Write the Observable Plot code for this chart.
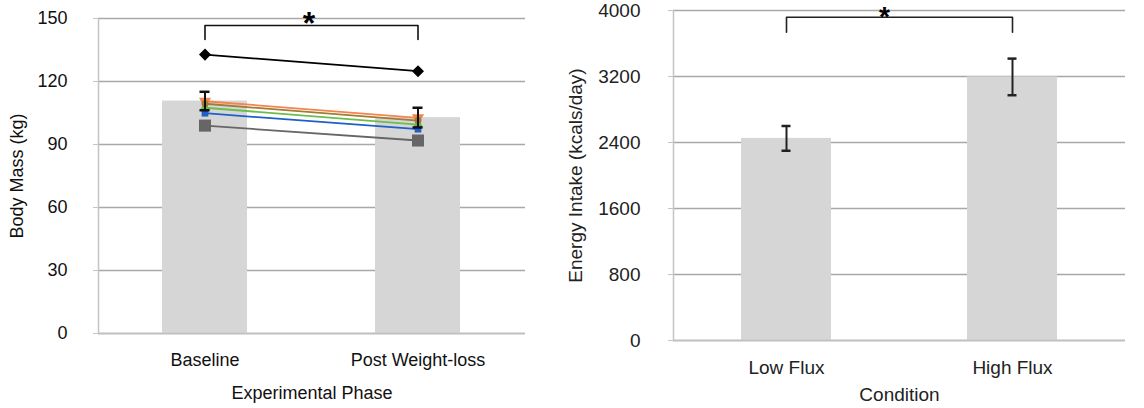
<!DOCTYPE html>
<html><head><meta charset="utf-8">
<script src="https://cdn.jsdelivr.net/npm/d3@7"></script>
<script src="https://cdn.jsdelivr.net/npm/@observablehq/plot@0.6"></script>
<style>
body{margin:0;background:#fff;}
#wrap{display:flex;width:1144px;height:408px;overflow:hidden;}
#wrap svg{overflow:visible;}
</style></head><body><div id="wrap"></div>
<script>
// ---- Left panel data ----
const phases = ["Baseline", "Post Weight-loss"];
const meanMass = [110.7, 102.8];
const errMass = [4.4, 4.7];
const massTicks = [0, 30, 60, 90, 120, 150];
const subjects = ["S1", "S2", "S3", "S4", "S5", "S6"];
const subjectBaseline = [132.8, 110.6, 109.4, 107.5, 104.9, 99.0];
const subjectPost = [124.9, 102.7, 101.4, 99.5, 97.3, 91.9];
const massBracketTop = 146.7;
const massBracketBottom = 140;

// ---- Right panel data ----
const conditions = ["Low Flux", "High Flux"];
const energyIntake = [2450, 3195];
const energyErr = [150, 222];
const energyTicks = [0, 800, 1600, 2400, 3200, 4000];
const energyBracketTop = 3919;
const energyBracketBottom = 3737;

// ---- styles ----
const subjectColors = ["#000000", "#f4844c", "#a27b34", "#6cbd4c", "#1f5fc8", "#666666"];
const subjectSymbols = ["square", "triangle", "circle", "triangle", "square", "square"];
const subjectR = [4.8, 4.5, 3.5, 4, 3.8, 6.8];
const subjectRot = [45, 180, 0, 0, 0, 0];

const font = '"Liberation Sans", Arial, Helvetica, sans-serif';
const massRows = phases.map((p, i) => ({phase: p, mean: meanMass[i], err: errMass[i]}));
const subjRows = subjects.flatMap((s, i) => [
  {subject: s, idx: i, phase: phases[0], mass: subjectBaseline[i]},
  {subject: s, idx: i, phase: phases[1], mass: subjectPost[i]}
]);
const massBracket = [
  {phase: phases[0], y: massBracketBottom}, {phase: phases[0], y: massBracketTop},
  {phase: phases[1], y: massBracketTop}, {phase: phases[1], y: massBracketBottom}
];

const left = Plot.plot({
  width: 545, height: 408, marginLeft: 98, marginRight: 20, marginTop: 18, marginBottom: 75,
  style: {fontFamily: font, fontSize: "18px", color: "#111", background: "#fff"},
  x: {domain: phases, paddingInner: 0.6, paddingOuter: 0.3},
  y: {domain: [0, 150]},
  r: {type: "identity"},
  marks: [
    Plot.gridY(massTicks, {stroke: "#a8a8a8", strokeOpacity: 1, strokeWidth: 1.5}),
    Plot.barY(massRows, {x: "phase", y: "mean", fill: "#d6d6d6"}),
    Plot.ruleY([0], {stroke: "#c0c0c0", strokeWidth: 1.5}),
    Plot.frame({anchor: "left", stroke: "#c4c4c4", strokeWidth: 1.5}),
    Plot.axisY(massTicks, {tickSize: 5, tickPadding: 26, stroke: "#c4c4c4", tickFormat: d => String(d),
      label: "Body Mass (kg)", labelAnchor: "center", labelArrow: "none", labelOffset: 88}),
    Plot.axisX({tickSize: 0, tickPadding: 20, label: "Experimental Phase", labelAnchor: "center", labelArrow: "none", labelOffset: 65}),
    Plot.line(subjRows, {x: "phase", y: "mass", z: "subject", stroke: d => subjectColors[d.idx], strokeWidth: 1.8}),
    Plot.dot(subjRows, {x: "phase", y: "mass", symbol: d => subjectSymbols[d.idx], fill: d => subjectColors[d.idx],
      r: d => subjectR[d.idx], rotate: d => subjectRot[d.idx]}),
    Plot.ruleX(massRows, {x: "phase", y1: d => d.mean - d.err, y2: d => d.mean + d.err, stroke: "#111", strokeWidth: 2}),
    Plot.tickY(massRows, {x: "phase", y: d => d.mean + d.err, stroke: "#111", strokeWidth: 2.5, insetLeft: 37.5, insetRight: 37.5}),
    Plot.tickY(massRows, {x: "phase", y: d => d.mean - d.err, stroke: "#111", strokeWidth: 2.5, insetLeft: 37.5, insetRight: 37.5}),
    Plot.line(massBracket, {x: "phase", y: "y", stroke: "#111", strokeWidth: 1.6}),
    Plot.text(["*"], {frameAnchor: "top", dx: -3, dy: -7, fontSize: 32, fontWeight: "bold", fill: "#000"})
  ]
});

const energyRows = conditions.map((c, i) => ({cond: c, mean: energyIntake[i], err: energyErr[i]}));
const energyBracket = [
  {cond: conditions[0], y: energyBracketBottom}, {cond: conditions[0], y: energyBracketTop},
  {cond: conditions[1], y: energyBracketTop}, {cond: conditions[1], y: energyBracketBottom}
];

const right = Plot.plot({
  width: 599, height: 408, marginLeft: 128, marginRight: 19, marginTop: 10, marginBottom: 68,
  style: {fontFamily: font, fontSize: "19px", color: "#222", background: "#fff"},
  x: {domain: conditions, paddingInner: 0.6, paddingOuter: 0.3},
  y: {domain: [0, 4000]},
  marks: [
    Plot.gridY(energyTicks, {stroke: "#a8a8a8", strokeOpacity: 1, strokeWidth: 1.5}),
    Plot.barY(energyRows, {x: "cond", y: "mean", fill: "#d6d6d6"}),
    Plot.ruleY([0], {stroke: "#c0c0c0", strokeWidth: 1.5}),
    Plot.frame({anchor: "left", stroke: "#c4c4c4", strokeWidth: 1.5}),
    Plot.axisY(energyTicks, {tickSize: 5, tickPadding: 28, stroke: "#c4c4c4", tickFormat: d => String(d),
      label: "Energy Intake (kcals/day)", labelAnchor: "center", labelArrow: "none", labelOffset: 105}),
    Plot.axisX({tickSize: 0, tickPadding: 20, label: "Condition", labelAnchor: "center", labelArrow: "none", labelOffset: 60}),
    Plot.ruleX(energyRows, {x: "cond", y1: d => d.mean - d.err, y2: d => d.mean + d.err, stroke: "#222", strokeWidth: 2}),
    Plot.tickY(energyRows, {x: "cond", y: d => d.mean + d.err, stroke: "#222", strokeWidth: 2.5, insetLeft: 40.5, insetRight: 40.5}),
    Plot.tickY(energyRows, {x: "cond", y: d => d.mean - d.err, stroke: "#222", strokeWidth: 2.5, insetLeft: 40.5, insetRight: 40.5}),
    Plot.line(energyBracket, {x: "cond", y: "y", stroke: "#222", strokeWidth: 1.6}),
    Plot.text(["*"], {frameAnchor: "top", dx: -15, dy: -4, fontSize: 28, fontWeight: "bold", fill: "#000"})
  ]
});

document.getElementById("wrap").append(left, right);
</script></body></html>
